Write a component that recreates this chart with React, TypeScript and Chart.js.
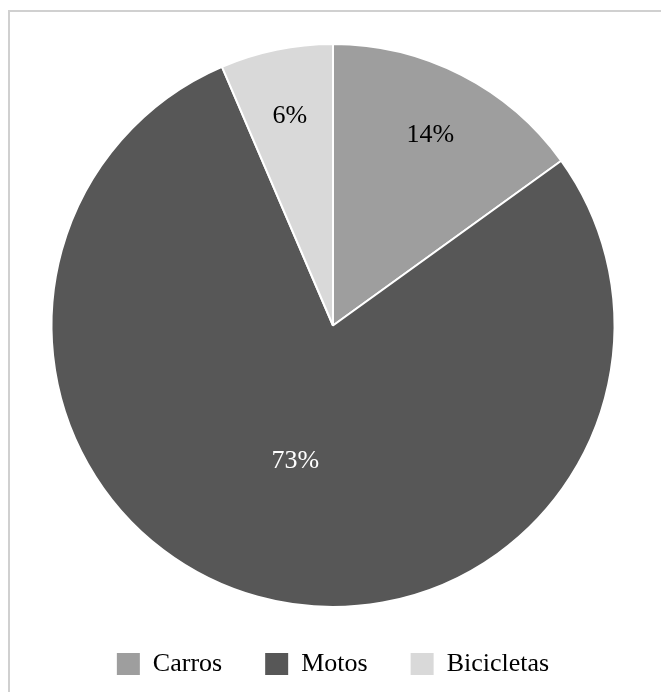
import React, { useEffect, useRef } from 'react';
import { Chart, registerables } from 'chart.js';

Chart.register(...registerables);

const categories = ['Carros', 'Motos', 'Bicicletas'];
const values = [14, 73, 6];
const valueLabels = ['14%', '73%', '6%'];
const sliceColors = ['#9e9e9e', '#575757', '#d9d9d9'];
const labelColors = ['#000000', '#ffffff', '#000000'];

const FONT_FAMILY = '"Liberation Serif", "Times New Roman", serif';

const sliceLabelPlugin = {
  id: 'sliceLabels',
  afterDatasetsDraw(chart: any) {
    const meta = chart.getDatasetMeta(0);
    const ctx = chart.ctx;
    ctx.save();
    ctx.font = `26px ${FONT_FAMILY}`;
    ctx.textAlign = 'center';
    ctx.textBaseline = 'middle';
    meta.data.forEach((arc: any, i: number) => {
      const p = arc.getProps(['startAngle', 'endAngle', 'outerRadius', 'x', 'y'], true);
      const mid = (p.startAngle + p.endAngle) / 2;
      const span = p.endAngle - p.startAngle;
      const frac = span > Math.PI ? 0.5 : 0.76;
      ctx.fillStyle = labelColors[i];
      ctx.fillText(
        valueLabels[i],
        p.x + Math.cos(mid) * p.outerRadius * frac,
        p.y + Math.sin(mid) * p.outerRadius * frac
      );
    });
    ctx.restore();
  },
};

export default function App() {
  const canvasRef = useRef<HTMLCanvasElement | null>(null);

  useEffect(() => {
    if (!canvasRef.current) return;
    const baseGen = (Chart as any).overrides.pie.plugins.legend.labels.generateLabels;
    const chart = new Chart(canvasRef.current, {
      type: 'pie',
      data: {
        labels: categories,
        datasets: [
          {
            data: values,
            backgroundColor: sliceColors,
            borderColor: '#ffffff',
            borderWidth: 2,
            hoverOffset: 0,
            offset: 0,
          },
        ],
      },
      options: {
        responsive: false,
        animation: false,
        events: [],
        layout: { padding: { left: 0, right: 54, top: 31, bottom: 85 } },
        plugins: {
          tooltip: { enabled: false },
          legend: {
            display: true,
            position: 'bottom',
            labels: {
              boxWidth: 23,
              boxHeight: 22,
              padding: 43,
              color: '#000000',
              font: { family: FONT_FAMILY, size: 26 },
              generateLabels: (c: any) =>
                baseGen(c).map((it: any) => ({ ...it, lineWidth: 0 })),
            },
          },
        },
      },
      plugins: [sliceLabelPlugin],
    });
    return () => chart.destroy();
  }, []);

  return (
    <div
      style={{
        position: 'fixed',
        left: 8,
        top: 10,
        width: 700,
        height: 760,
        border: '2px solid #d0d0d0',
        background: '#ffffff',
      }}
    >
      <canvas ref={canvasRef} width={700} height={760} style={{ display: 'block' }} />
    </div>
  );
}
